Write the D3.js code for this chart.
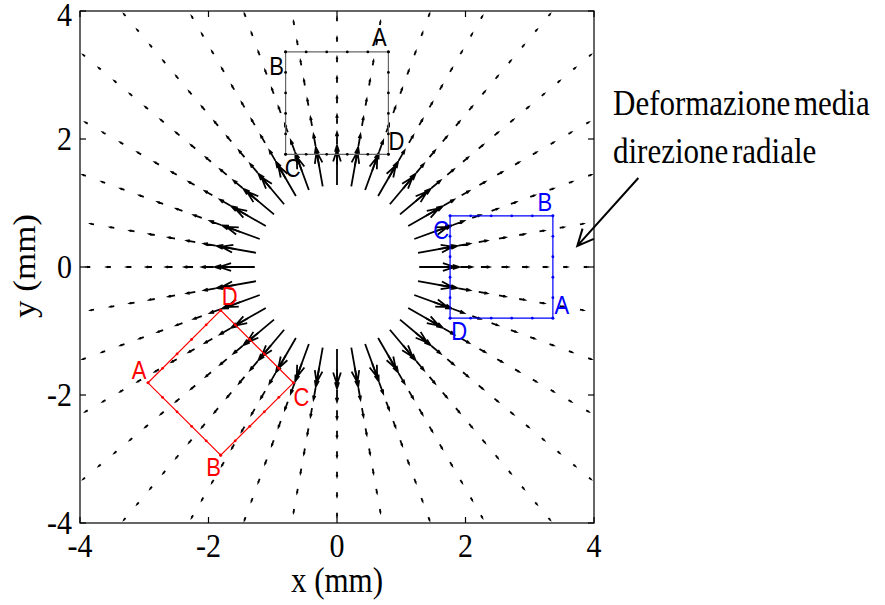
<!DOCTYPE html>
<html><head><meta charset="utf-8">
<script src="https://cdn.jsdelivr.net/npm/d3@7"></script>
<style>body{margin:0;background:#fff}</style>
</head><body>
<svg id="chart" width="885" height="605"></svg>
<script>
// ---- data ----
const radii = [1.28,1.60,1.92,2.24,2.56,2.88,3.20,3.52,3.84,4.16,4.48,4.80,5.12,5.44,5.76];
const magnitudes = [0.55,0.30,0.18,0.13,0.10,0.085,0.07,0.06,0.05,0.045,0.04,0.036,0.033,0.03,0.028];
const anglesDeg = [0,10,20,30,40,50,60,70,80,90,100,110,120,130,140,150,160,170,180,190,200,210,220,230,240,250,260,270,280,290,300,310,320,330,340,350];
const xTicks = [-4,-2,0,2,4];
const yTicks = [-4,-2,0,2,4];
const cornerNames = ["A","B","C","D"];
const cornerLocal = [[0.8,0.8],[-0.8,0.8],[-0.8,-0.8],[0.8,-0.8]];
const edgeSteps = [0,0.32,0.64,0.96,1.28,1.6];
const elementAngles = [90, 0, 225];
const elementRadius = 2.56;
const elementColors = ["#000000","#0000ff","#ff0000"];
const elementLineColors = ["#666666","#0000ff","#ff0000"];
const annotationText = ["Deformazione media","direzione radiale"];
const annotationArrow = [[4.69,1.39],[3.74,0.33]];

// ---- layout ----
const W = 885, H = 605;
const x = d3.scaleLinear().domain([-4,4]).range([80,594]);
const y = d3.scaleLinear().domain([-4,4]).range([523,11]);
const stretch = 1.13;
const labelOffsets = [
  [[-9,-14],[-9,15],[7,15],[8,-12]],
  [[9,-12],[-8,-13],[-9,15],[9,14]],
  [[-9,-12],[-7,13],[8,15],[9,-13]]
];

const svg = d3.select("#chart");
svg.append("rect").attr("width",W).attr("height",H).attr("fill","#fff");
svg.append("defs").append("clipPath").attr("id","clip")
  .append("rect").attr("x",80).attr("y",11).attr("width",514).attr("height",512);

function stext(px, py, s, size, family, anchor) {
  return svg.append("text")
    .attr("transform", `translate(${px},${py}) scale(1,${stretch})`)
    .attr("text-anchor", anchor).attr("font-family", family).attr("font-size", size).text(s);
}

// quiver
const pts = [];
anglesDeg.forEach(a => {
  const t = a*Math.PI/180;
  radii.forEach((r,i) => pts.push({x0:r*Math.cos(t), y0:r*Math.sin(t), u:magnitudes[i]*Math.cos(t), v:magnitudes[i]*Math.sin(t)}));
});
const alpha = 0.33, beta = 0.33;
const qg = svg.append("g").attr("clip-path","url(#clip)");
pts.forEach(p => {
  const tx = p.x0+p.u, ty = p.y0+p.v;
  const h1 = [tx - alpha*(p.u + beta*p.v), ty - alpha*(p.v - beta*p.u)];
  const h2 = [tx - alpha*(p.u - beta*p.v), ty - alpha*(p.v + beta*p.u)];
  qg.append("path")
    .attr("d", `M${x(p.x0)},${y(p.y0)}L${x(tx)},${y(ty)}M${x(h1[0])},${y(h1[1])}L${x(tx)},${y(ty)}L${x(h2[0])},${y(h2[1])}`)
    .attr("fill","none").attr("stroke","#000").attr("stroke-width",1.8);
});

// elements
elementAngles.forEach((ang, k) => {
  const t = ang*Math.PI/180;
  const cx = elementRadius*Math.cos(t), cy = elementRadius*Math.sin(t);
  const rot = (ang-90)*Math.PI/180;
  const tr = ([a,b]) => [cx + a*Math.cos(rot) - b*Math.sin(rot), cy + a*Math.sin(rot) + b*Math.cos(rot)];
  const corners = cornerLocal.map(tr);
  const g = svg.append("g");
  g.append("path")
    .attr("d", "M" + corners.map(c => `${x(c[0])},${y(c[1])}`).join("L") + "Z")
    .attr("fill","none").attr("stroke",elementLineColors[k]).attr("stroke-width",1.2);
  for (let e=0;e<4;e++){
    const a0 = cornerLocal[e], a1 = cornerLocal[(e+1)%4];
    const dx = (a1[0]-a0[0])/1.6, dy = (a1[1]-a0[1])/1.6;
    edgeSteps.forEach(s => {
      const c = tr([a0[0]+dx*s, a0[1]+dy*s]);
      g.append("circle").attr("cx",x(c[0])).attr("cy",y(c[1])).attr("r",1.4).attr("fill",elementColors[k]);
    });
  }
  corners.forEach((c,i) => {
    stext(x(c[0]) + labelOffsets[k][i][0], y(c[1]) + labelOffsets[k][i][1] + 8, cornerNames[i], 22,
      "'Liberation Sans', Arial, sans-serif", "middle").attr("fill", elementColors[k]);
  });
});

// frame
svg.append("rect").attr("x",80).attr("y",11).attr("width",514).attr("height",512)
  .attr("fill","none").attr("stroke","#000").attr("stroke-width",1.2);
const tl = 6;
const ax = svg.append("g").attr("stroke","#000").attr("stroke-width",1.2);
xTicks.forEach(v => {
  ax.append("line").attr("x1",x(v)).attr("x2",x(v)).attr("y1",523).attr("y2",523-tl);
  ax.append("line").attr("x1",x(v)).attr("x2",x(v)).attr("y1",11).attr("y2",11+tl);
});
yTicks.forEach(v => {
  ax.append("line").attr("y1",y(v)).attr("y2",y(v)).attr("x1",80).attr("x2",80+tl);
  ax.append("line").attr("y1",y(v)).attr("y2",y(v)).attr("x1",594).attr("x2",594-tl);
});
const serif = "'Liberation Serif','Times New Roman',serif";
xTicks.forEach(v => stext(x(v), 557, String(v), 30, serif, "middle"));
yTicks.forEach(v => stext(72, Math.max(y(v)+11, 26), String(v), 30, serif, "end"));
stext(337, 592, "x (mm)", 31, serif, "middle");
svg.append("text").attr("transform",`translate(35,266) scale(1,${stretch}) rotate(-90)`).attr("text-anchor","middle")
  .attr("font-family",serif).attr("font-size",31).text("y (mm)");

// annotation
annotationText.forEach((s,i) => {
  stext(613, 115+i*48, s, 31, serif, "start").attr("word-spacing",-4);
});
const [p0,p1] = annotationArrow;
const X0 = x(p0[0]), Y0 = y(p0[1]), X1 = x(p1[0]), Y1 = y(p1[1]);
const ang = Math.atan2(Y0-Y1, X0-X1), hl = 18, ha = 25*Math.PI/180;
svg.append("path")
  .attr("d", `M${X0},${Y0}L${X1},${Y1}M${X1+hl*Math.cos(ang+ha)},${Y1+hl*Math.sin(ang+ha)}L${X1},${Y1}L${X1+hl*Math.cos(ang-ha)},${Y1+hl*Math.sin(ang-ha)}`)
  .attr("fill","none").attr("stroke","#000").attr("stroke-width",2);
</script>
</body></html>
